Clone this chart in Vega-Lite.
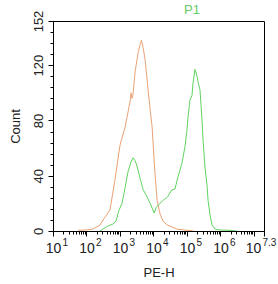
{
  "$schema": "https://vega.github.io/schema/vega-lite/v6.json",
  "autosize": "none",
  "width": 211,
  "height": 210,
  "padding": {"left": 53, "top": 21, "right": 14, "bottom": 53},
  "background": "white",
  "config": {"view": {"stroke": "black", "strokeWidth": 1}, "font": "Liberation Sans"},
  "title": {"text": "P1", "anchor": "start", "frame": "group", "dx": 131, "color": "#66cc66", "fontSize": 13, "fontWeight": "normal", "font": "Liberation Sans", "offset": -7},
  "data": {"values": [
    {"s": "Isotype", "L": 1.75, "c": 0.5},
    {"s": "Isotype", "L": 1.99, "c": 0.8},
    {"s": "Isotype", "L": 2.19, "c": 1.4},
    {"s": "Isotype", "L": 2.31, "c": 3},
    {"s": "Isotype", "L": 2.40, "c": 4.3},
    {"s": "Isotype", "L": 2.55, "c": 10},
    {"s": "Isotype", "L": 2.70, "c": 15},
    {"s": "Isotype", "L": 2.85, "c": 37},
    {"s": "Isotype", "L": 3.00, "c": 62},
    {"s": "Isotype", "L": 3.15, "c": 75},
    {"s": "Isotype", "L": 3.24, "c": 86},
    {"s": "Isotype", "L": 3.31, "c": 95},
    {"s": "Isotype", "L": 3.33, "c": 100},
    {"s": "Isotype", "L": 3.36, "c": 96},
    {"s": "Isotype", "L": 3.39, "c": 99},
    {"s": "Isotype", "L": 3.45, "c": 115},
    {"s": "Isotype", "L": 3.54, "c": 129},
    {"s": "Isotype", "L": 3.60, "c": 135},
    {"s": "Isotype", "L": 3.64, "c": 138},
    {"s": "Isotype", "L": 3.69, "c": 133},
    {"s": "Isotype", "L": 3.75, "c": 124},
    {"s": "Isotype", "L": 3.84, "c": 102},
    {"s": "Isotype", "L": 3.90, "c": 88},
    {"s": "Isotype", "L": 3.96, "c": 75},
    {"s": "Isotype", "L": 4.02, "c": 51},
    {"s": "Isotype", "L": 4.05, "c": 40},
    {"s": "Isotype", "L": 4.11, "c": 22},
    {"s": "Isotype", "L": 4.20, "c": 12},
    {"s": "Isotype", "L": 4.29, "c": 7},
    {"s": "Isotype", "L": 4.41, "c": 4.3},
    {"s": "Isotype", "L": 4.56, "c": 2.9},
    {"s": "Isotype", "L": 4.70, "c": 1.4},
    {"s": "Isotype", "L": 4.94, "c": 0.7},
    {"s": "Isotype", "L": 5.20, "c": 0},
    {"s": "P1", "L": 2.40, "c": 0},
    {"s": "P1", "L": 2.49, "c": 1.4},
    {"s": "P1", "L": 2.64, "c": 3.6},
    {"s": "P1", "L": 2.79, "c": 5},
    {"s": "P1", "L": 2.88, "c": 7.2},
    {"s": "P1", "L": 2.97, "c": 15},
    {"s": "P1", "L": 3.06, "c": 20},
    {"s": "P1", "L": 3.15, "c": 31},
    {"s": "P1", "L": 3.24, "c": 43},
    {"s": "P1", "L": 3.33, "c": 50},
    {"s": "P1", "L": 3.39, "c": 53},
    {"s": "P1", "L": 3.45, "c": 51},
    {"s": "P1", "L": 3.51, "c": 47},
    {"s": "P1", "L": 3.60, "c": 38},
    {"s": "P1", "L": 3.69, "c": 30},
    {"s": "P1", "L": 3.81, "c": 24.6},
    {"s": "P1", "L": 3.90, "c": 20},
    {"s": "P1", "L": 3.96, "c": 16.6},
    {"s": "P1", "L": 4.02, "c": 13},
    {"s": "P1", "L": 4.08, "c": 17},
    {"s": "P1", "L": 4.17, "c": 19.5},
    {"s": "P1", "L": 4.30, "c": 22.4},
    {"s": "P1", "L": 4.42, "c": 24.6},
    {"s": "P1", "L": 4.49, "c": 27.5},
    {"s": "P1", "L": 4.55, "c": 29.7},
    {"s": "P1", "L": 4.64, "c": 30.4},
    {"s": "P1", "L": 4.73, "c": 39},
    {"s": "P1", "L": 4.85, "c": 49},
    {"s": "P1", "L": 4.94, "c": 61},
    {"s": "P1", "L": 5.00, "c": 73},
    {"s": "P1", "L": 5.03, "c": 82},
    {"s": "P1", "L": 5.09, "c": 95},
    {"s": "P1", "L": 5.15, "c": 98},
    {"s": "P1", "L": 5.18, "c": 107},
    {"s": "P1", "L": 5.24, "c": 117},
    {"s": "P1", "L": 5.30, "c": 112},
    {"s": "P1", "L": 5.33, "c": 108},
    {"s": "P1", "L": 5.39, "c": 102},
    {"s": "P1", "L": 5.45, "c": 80},
    {"s": "P1", "L": 5.48, "c": 66},
    {"s": "P1", "L": 5.54, "c": 45.6},
    {"s": "P1", "L": 5.60, "c": 33},
    {"s": "P1", "L": 5.63, "c": 22},
    {"s": "P1", "L": 5.69, "c": 11.6},
    {"s": "P1", "L": 5.75, "c": 4.3},
    {"s": "P1", "L": 5.84, "c": 1.4},
    {"s": "P1", "L": 5.99, "c": 0.7},
    {"s": "P1", "L": 6.28, "c": 0.5},
    {"s": "P1", "L": 6.49, "c": 0}
  ]},
  "layer": [
    {
      "mark": {"type": "line", "strokeWidth": 1, "clip": true},
      "encoding": {
        "x": {
          "field": "L", "type": "quantitative",
          "scale": {"domain": [1, 7.3], "nice": false, "zero": false},
          "axis": {
            "orient": "bottom",
            "title": "PE-H", "titleFontSize": 13, "titleFontWeight": "normal", "titleColor": "#222", "titlePadding": 11,
            "values": [1, 1.301, 1.477, 1.602, 1.699, 1.778, 1.845, 1.903, 1.954,
                       2, 2.301, 2.477, 2.602, 2.699, 2.778, 2.845, 2.903, 2.954,
                       3, 3.301, 3.477, 3.602, 3.699, 3.778, 3.845, 3.903, 3.954,
                       4, 4.301, 4.477, 4.602, 4.699, 4.778, 4.845, 4.903, 4.954,
                       5, 5.301, 5.477, 5.602, 5.699, 5.778, 5.845, 5.903, 5.954,
                       6, 6.301, 6.477, 6.602, 6.699, 6.778, 6.845, 6.903, 6.954,
                       7, 7.3],
            "labelExpr": "(abs(datum.value - round(datum.value)) < 0.001 && datum.value < 7) || datum.value == 7.3 ? '10' : ''",
            "labelFontSize": 14, "labelColor": "#222", "labelPadding": 5, "labelFlush": false, "labelOverlap": false,
            "labelOffset": {"condition": {"test": "datum.value == 7.3", "value": -11}, "value": 0},
            "grid": false, "domainColor": "black", "tickColor": "black",
            "tickSize": {"condition": {"test": "abs(datum.value - round(datum.value)) < 0.001 || datum.value == 7.3", "value": 5}, "value": 3}
          }
        },
        "y": {
          "field": "c", "type": "quantitative",
          "scale": {"domain": [0, 152], "nice": false},
          "axis": {
            "title": "Count", "titleFontSize": 13, "titleFontWeight": "normal", "titleColor": "#222", "titlePadding": 10,
            "values": [0, 8, 16, 24, 32, 40, 48, 56, 64, 72, 80, 88, 96, 104, 112, 120, 128, 136, 144, 152],
            "labelExpr": "datum.value % 40 == 0 || datum.value == 152 ? datum.label : ''",
            "labelAngle": -90, "labelAlign": "center", "labelBaseline": "bottom",
            "labelFontSize": 13, "labelColor": "#222", "labelPadding": 3, "labelFlush": false, "labelOverlap": false,
            "grid": false, "domainColor": "black", "tickColor": "black",
            "tickSize": {"condition": {"test": "datum.value % 40 == 0 || datum.value == 152", "value": 5}, "value": 3}
          }
        },
        "color": {
          "field": "s", "type": "nominal",
          "scale": {"domain": ["Isotype", "P1"], "range": ["#eba274", "#5fd35f"]},
          "legend": null
        }
      }
    },
    {
      "mark": {"type": "rule", "strokeOpacity": 0},
      "encoding": {
        "x": {
          "field": "L", "type": "quantitative",
          "scale": {"domain": [1, 7.3], "nice": false, "zero": false},
          "axis": {
            "orient": "bottom",
            "title": null, "domain": false, "ticks": false, "grid": false,
            "values": [1, 2, 3, 4, 5, 6, 7.3],
            "labelExpr": "datum.value == 7.3 ? '7.3' : format(datum.value, 'd')",
            "labelFontSize": 10, "labelColor": "#222", "labelAlign": "left", "labelBaseline": "top", "labelPadding": 6,
            "labelFlush": false, "labelOverlap": false,
            "labelOffset": {"condition": {"test": "datum.value == 7.3", "value": -2}, "value": 9}
          }
        }
      }
    }
  ],
  "resolve": {"axis": {"x": "independent"}}
}
